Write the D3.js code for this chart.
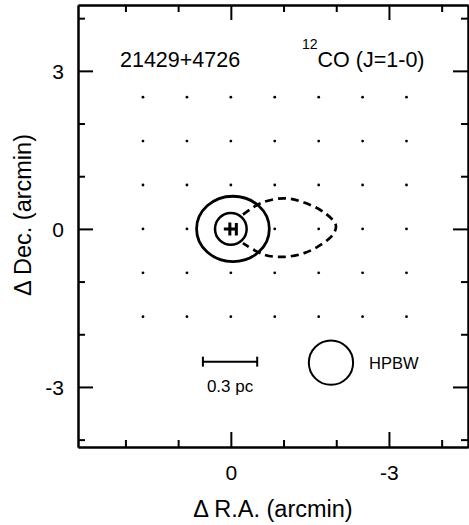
<html>
<head>
<meta charset="utf-8">
<script src="https://d3js.org/d3.v7.min.js"></script>
<style>
  body { margin: 0; background: #fff; }
  svg { font-family: "Liberation Sans", Arial, sans-serif; }
  .frame line, .frame path { stroke: #000; stroke-width: 2; }
  .frame text { font-size: 21px; fill: #000; }
</style>
</head>
<body>
<div id="chart"></div>
<script>
// observed grid positions (arcmin), 50" spacing
var gridRA = [1.667, 0.833, 0, -0.833, -1.667, -2.5, -3.333];
var gridDec = [2.5, 1.667, 0.833, 0, -0.833, -1.667];

// axis ticks
var majorTicksX = [0, -3];
var minorTicksX = [2, 1, -1, -2, -4];
var majorTicksY = [3, 0, -3];
var minorTicksY = [4, 2, 1, -1, -2, -4];

// contours (arcmin)
var innerCircle = {ra: 0, dec: 0, r: 0.3};
var outerContour = {ra: -0.04, dec: 0.0, rx: 0.69, ry: 0.62};
var dashedContour = [
  [-0.23, 0.27], [-0.57, 0.49], [-1.01, 0.58], [-1.39, 0.50], [-1.76, 0.32],
  [-1.99, 0.08], [-1.95, -0.09], [-1.71, -0.30], [-1.39, -0.46], [-1.01, -0.53],
  [-0.63, -0.49], [-0.23, -0.27]
];
var peak = [0, 0];

// scale bar and beam
var scaleBar = {ra1: 0.53, ra2: -0.5, dec: -2.52, label: "0.3 pc"};
var beam = {ra: -1.9, dec: -2.54, r: 0.42, label: "HPBW"};

var W = 469, H = 525;
var mLeft = 78, mRight = 468, mTop = 5, mBottom = 447;

var x = d3.scaleLinear().domain([2.9, -4.5]).range([mLeft, mRight]);
var y = d3.scaleLinear().domain([-4.14, 4.25]).range([mBottom, mTop]);

var svg = d3.select("#chart").append("svg")
  .attr("width", W).attr("height", H);

/* frame with inward ticks */
function addAxis(axisFn, scale, ticks, size, transform, labels) {
  var g = svg.append("g").attr("class", "frame")
    .attr("transform", transform)
    .call(axisFn(scale).tickValues(ticks).tickSizeInner(-size).tickSizeOuter(0)
      .tickFormat(labels ? (d => String(d)) : ""));
  return g;
}

var xb = addAxis(d3.axisBottom, x, majorTicksX, 15, "translate(0," + mBottom + ")", true);
xb.selectAll("text").attr("dy", 0).attr("y", 33);
addAxis(d3.axisBottom, x, minorTicksX, 7, "translate(0," + mBottom + ")", false);
addAxis(d3.axisTop, x, majorTicksX, 15, "translate(0," + mTop + ")", false);
addAxis(d3.axisTop, x, minorTicksX, 7, "translate(0," + mTop + ")", false);

var yl = addAxis(d3.axisLeft, y, majorTicksY, 15, "translate(" + mLeft + ",0)", true);
yl.selectAll("text").attr("x", -14).attr("dy", "0.35em");
addAxis(d3.axisLeft, y, minorTicksY, 7, "translate(" + mLeft + ",0)", false);
addAxis(d3.axisRight, y, majorTicksY, 15, "translate(" + mRight + ",0)", false);
addAxis(d3.axisRight, y, minorTicksY, 7, "translate(" + mRight + ",0)", false);

/* observed points */
var pts = [];
gridDec.forEach(function(d) { gridRA.forEach(function(r) { pts.push([r, d]); }); });
svg.append("g").selectAll("circle")
  .data(pts).enter().append("circle")
  .attr("cx", d => x(d[0])).attr("cy", d => y(d[1]))
  .attr("r", 1.4).attr("fill", "#000");

/* contours */
var line = d3.line().x(d => x(d[0])).y(d => y(d[1])).curve(d3.curveCatmullRom);
svg.append("path")
  .attr("d", line(dashedContour))
  .attr("fill", "none").attr("stroke", "#000")
  .attr("stroke-width", 2.7).attr("stroke-dasharray", "8,5");

svg.append("ellipse")
  .attr("cx", x(outerContour.ra)).attr("cy", y(outerContour.dec))
  .attr("rx", x(0) - x(outerContour.rx)).attr("ry", y(0) - y(outerContour.ry))
  .attr("fill", "none").attr("stroke", "#000").attr("stroke-width", 2.8);

svg.append("circle")
  .attr("cx", x(innerCircle.ra)).attr("cy", y(innerCircle.dec))
  .attr("r", x(0) - x(innerCircle.r))
  .attr("fill", "none").attr("stroke", "#000").attr("stroke-width", 2.5);

/* peak marker */
var px = x(peak[0]), py = y(peak[1]);
svg.append("path")
  .attr("d", "M" + (px - 7) + "," + py + "H" + (px + 6) +
             "M" + (px - 1) + "," + (py - 6.5) + "V" + (py + 6.5) +
             "M" + (px + 5.5) + "," + (py - 6) + "V" + (py + 6.5))
  .attr("stroke", "#000").attr("stroke-width", 3).attr("fill", "none");

/* scale bar */
var sb = svg.append("g").attr("stroke", "#000").attr("stroke-width", 2);
sb.append("line").attr("x1", x(scaleBar.ra1)).attr("x2", x(scaleBar.ra2))
  .attr("y1", y(scaleBar.dec)).attr("y2", y(scaleBar.dec));
[scaleBar.ra1, scaleBar.ra2].forEach(function(r) {
  sb.append("line").attr("x1", x(r)).attr("x2", x(r))
    .attr("y1", y(scaleBar.dec) - 5).attr("y2", y(scaleBar.dec) + 5);
});
svg.append("text")
  .attr("x", (x(scaleBar.ra1) + x(scaleBar.ra2)) / 2).attr("y", y(scaleBar.dec) + 30)
  .attr("text-anchor", "middle").attr("font-size", 17).text(scaleBar.label);

/* beam */
svg.append("circle")
  .attr("cx", x(beam.ra)).attr("cy", y(beam.dec))
  .attr("r", x(0) - x(beam.r))
  .attr("fill", "none").attr("stroke", "#000").attr("stroke-width", 2);
svg.append("text")
  .attr("x", x(beam.ra) + 38).attr("y", y(beam.dec) + 6)
  .attr("font-size", 16.5).text(beam.label);

/* titles */
svg.append("text").attr("x", 120).attr("y", 67)
  .attr("font-size", 21.5).text("21429+4726");
var t = svg.append("text").attr("x", 302).attr("y", 67).attr("font-size", 21.5);
t.append("tspan").attr("font-size", 14).attr("dy", -18).text("12");
t.append("tspan").attr("dy", 18).text("CO (J=1-0)");

svg.append("text")
  .attr("x", (mLeft + mRight) / 2).attr("y", 517)
  .attr("text-anchor", "middle").attr("font-size", 23.5)
  .text("\u0394 R.A. (arcmin)");
svg.append("text")
  .attr("transform", "translate(31,215) rotate(-90)")
  .attr("text-anchor", "middle").attr("font-size", 23.5)
  .text("\u0394 Dec. (arcmin)");
</script>
</body>
</html>
